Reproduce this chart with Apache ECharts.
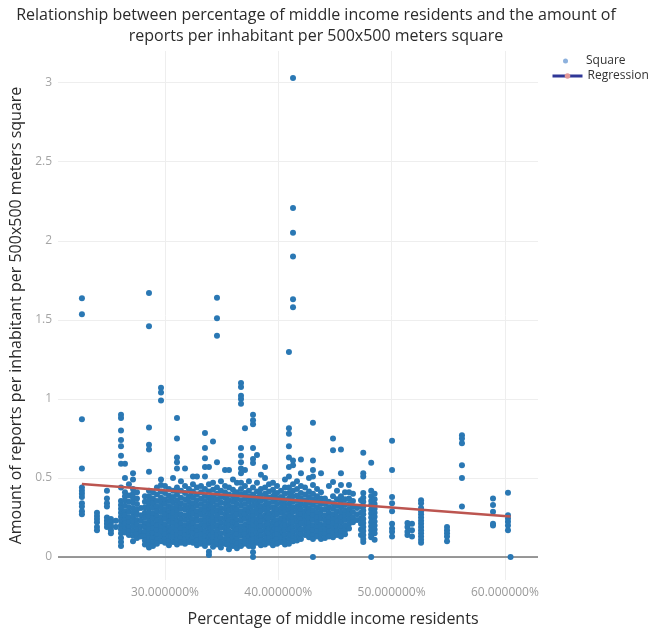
<!DOCTYPE html>
<html>
<head>
<meta charset="utf-8">
<title>Middle income residents vs reports</title>
<script src="https://cdn.jsdelivr.net/npm/echarts@6/dist/echarts.min.js"></script>
<style>
  html, body { margin: 0; padding: 0; background: #ffffff; }
  #chart { width: 650px; height: 632px; }
</style>
</head>
<body>
<div id="chart"></div>
<script>
// Share of middle income residents (%) for each group of squares
const shareColumns = [
  22.67, 24.0, 24.88, 25.23, 25.67, 26.12, 26.47, 26.82, 27.18, 27.53,
  27.88, 28.23, 28.59, 28.94, 29.29, 29.65, 30.0, 30.35, 30.53, 30.71,
  31.06, 31.41, 31.77, 32.12, 32.3, 32.47, 32.82, 33.18, 33.53, 33.88,
  34.05, 34.24, 34.59, 34.94, 35.30, 35.48, 35.65, 36.0, 36.18, 36.35,
  36.71, 37.06, 37.41, 37.6, 37.77, 38.12, 38.3, 38.47, 38.83, 39.0,
  39.18, 39.53, 39.7, 39.89, 40.24, 40.4, 40.59, 40.94, 41.1, 41.30,
  41.65, 41.83, 42.0, 42.36, 42.55, 42.71, 43.06, 43.42, 43.77, 44.12,
  44.47, 44.83, 45.18, 45.53, 45.89, 46.24, 46.59, 46.95, 47.30, 47.50,
  48.2, 48.5, 50.04, 51.4, 51.8, 52.6, 54.89, 56.21, 58.95, 60.27,
  60.5
];

// Reports per inhabitant of every square in the matching group
const reportColumns = [
  [1.636, 1.535, 0.872, 0.56, 0.44, 0.42, 0.40, 0.38, 0.34, 0.32, 0.29, 0.27],
  [0.28, 0.26, 0.24, 0.22, 0.19, 0.17],
  [0.42, 0.37, 0.34, 0.32, 0.25, 0.23, 0.21, 0.19],
  [0.24, 0.22, 0.20, 0.17, 0.15],
  [0.23, 0.19],
  [0.90, 0.88, 0.80, 0.74, 0.70, 0.64, 0.59, 0.44, 0.355, 0.33, 0.305, 0.28, 0.255, 0.23, 0.2, 0.175, 0.15, 0.12, 0.095, 0.07],
  [0.59, 0.50, 0.41, 0.385, 0.36, 0.325, 0.29, 0.265, 0.235, 0.21, 0.18, 0.155],
  [0.46, 0.39, 0.35, 0.315, 0.285, 0.25, 0.22, 0.19, 0.165, 0.14],
  [0.53, 0.49, 0.43, 0.40, 0.375, 0.345, 0.31, 0.28, 0.25, 0.22, 0.195, 0.165, 0.135, 0.10],
  [0.41, 0.37, 0.335, 0.30, 0.27, 0.235, 0.205, 0.175, 0.145, 0.12],
  [0.31, 0.265, 0.23, 0.195, 0.16, 0.13],
  [0.385, 0.35, 0.315, 0.28, 0.25, 0.215, 0.19, 0.16, 0.13, 0.105, 0.08],
  [1.67, 1.46, 0.82, 0.71, 0.68, 0.54, 0.42, 0.385, 0.36, 0.335, 0.305, 0.28, 0.255, 0.225, 0.2, 0.175, 0.145, 0.12, 0.095, 0.075, 0.06],
  [0.41, 0.37, 0.34, 0.31, 0.275, 0.245, 0.21, 0.18, 0.15, 0.12, 0.09, 0.07],
  [0.44, 0.395, 0.355, 0.32, 0.29, 0.26, 0.23, 0.2, 0.17, 0.14, 0.11, 0.085],
  [1.07, 1.04, 0.99, 0.49, 0.455, 0.415, 0.375, 0.345, 0.315, 0.285, 0.25, 0.22, 0.19, 0.16, 0.13, 0.10],
  [0.45, 0.405, 0.365, 0.335, 0.3, 0.27, 0.24, 0.205, 0.175, 0.145, 0.115, 0.09],
  [0.43, 0.39, 0.355, 0.32, 0.285, 0.255, 0.225, 0.19, 0.16, 0.13, 0.10, 0.075],
  [0.36, 0.31, 0.26, 0.22, 0.17, 0.13],
  [0.50, 0.42, 0.38, 0.345, 0.31, 0.28, 0.245, 0.215, 0.185, 0.155, 0.125, 0.095],
  [0.88, 0.75, 0.63, 0.60, 0.56, 0.44, 0.395, 0.36, 0.325, 0.295, 0.265, 0.23, 0.2, 0.17, 0.14, 0.11, 0.08],
  [0.48, 0.42, 0.375, 0.34, 0.305, 0.27, 0.24, 0.21, 0.18, 0.15, 0.12, 0.09],
  [0.56, 0.45, 0.405, 0.365, 0.33, 0.3, 0.265, 0.235, 0.2, 0.17, 0.14, 0.11, 0.085],
  [0.43, 0.385, 0.35, 0.315, 0.28, 0.25, 0.215, 0.185, 0.155, 0.125, 0.095],
  [0.39, 0.33, 0.28, 0.24, 0.2, 0.16, 0.11],
  [0.51, 0.46, 0.415, 0.375, 0.34, 0.305, 0.275, 0.24, 0.21, 0.18, 0.15, 0.12, 0.09],
  [0.51, 0.44, 0.395, 0.36, 0.325, 0.29, 0.26, 0.23, 0.195, 0.165, 0.135, 0.105, 0.075],
  [0.45, 0.41, 0.37, 0.335, 0.3, 0.27, 0.235, 0.205, 0.175, 0.145, 0.115, 0.085],
  [0.785, 0.69, 0.625, 0.57, 0.51, 0.43, 0.39, 0.355, 0.32, 0.29, 0.255, 0.225, 0.195, 0.16, 0.13, 0.1, 0.07],
  [0.57, 0.46, 0.415, 0.375, 0.34, 0.305, 0.275, 0.245, 0.21, 0.18, 0.15, 0.12, 0.09, 0.034, 0.013],
  [0.36, 0.32, 0.27, 0.23, 0.18, 0.14, 0.1],
  [0.73, 0.47, 0.425, 0.385, 0.35, 0.315, 0.285, 0.25, 0.22, 0.19, 0.155, 0.125, 0.095, 0.065],
  [1.64, 1.51, 1.40, 0.60, 0.44, 0.40, 0.365, 0.33, 0.295, 0.265, 0.235, 0.2, 0.17, 0.14, 0.11, 0.08],
  [0.48, 0.42, 0.38, 0.345, 0.31, 0.28, 0.245, 0.215, 0.185, 0.15, 0.12, 0.09, 0.06],
  [0.55, 0.45, 0.41, 0.375, 0.34, 0.305, 0.27, 0.24, 0.21, 0.18, 0.15, 0.115, 0.085],
  [0.39, 0.35, 0.29, 0.25, 0.21, 0.17, 0.12, 0.08],
  [0.55, 0.44, 0.395, 0.36, 0.325, 0.295, 0.26, 0.23, 0.2, 0.165, 0.135, 0.105, 0.075, 0.05],
  [0.49, 0.425, 0.385, 0.35, 0.315, 0.28, 0.25, 0.22, 0.19, 0.155, 0.125, 0.095, 0.07],
  [0.4, 0.36, 0.31, 0.26, 0.22, 0.18, 0.14, 0.1],
  [0.47, 0.41, 0.37, 0.335, 0.3, 0.27, 0.235, 0.205, 0.175, 0.145, 0.115, 0.085, 0.055],
  [1.10, 1.075, 1.02, 1.00, 0.97, 0.69, 0.64, 0.60, 0.56, 0.53, 0.47, 0.43, 0.395, 0.36, 0.325, 0.29, 0.26, 0.23, 0.195, 0.165, 0.135, 0.1, 0.07],
  [0.815, 0.55, 0.45, 0.405, 0.37, 0.335, 0.3, 0.27, 0.24, 0.205, 0.175, 0.145, 0.115, 0.085],
  [0.48, 0.42, 0.385, 0.35, 0.315, 0.285, 0.25, 0.22, 0.19, 0.16, 0.13, 0.1, 0.07],
  [0.37, 0.32, 0.28, 0.24, 0.19, 0.15, 0.11],
  [0.90, 0.865, 0.84, 0.69, 0.62, 0.595, 0.44, 0.395, 0.36, 0.325, 0.29, 0.26, 0.23, 0.2, 0.17, 0.14, 0.11, 0.085, 0.065, 0.03, 0.0],
  [0.645, 0.47, 0.415, 0.375, 0.34, 0.305, 0.275, 0.24, 0.21, 0.18, 0.15, 0.12, 0.09],
  [0.41, 0.36, 0.32, 0.27, 0.23, 0.19, 0.14, 0.1],
  [0.52, 0.43, 0.39, 0.355, 0.32, 0.29, 0.255, 0.225, 0.195, 0.165, 0.135, 0.105, 0.075],
  [0.57, 0.50, 0.44, 0.4, 0.365, 0.33, 0.3, 0.265, 0.235, 0.2, 0.17, 0.14, 0.11, 0.08],
  [0.38, 0.34, 0.29, 0.25, 0.21, 0.16, 0.12],
  [0.46, 0.415, 0.375, 0.34, 0.31, 0.275, 0.245, 0.21, 0.18, 0.15, 0.12, 0.09],
  [0.47, 0.425, 0.385, 0.35, 0.315, 0.28, 0.25, 0.22, 0.19, 0.16, 0.13, 0.1, 0.075],
  [0.4, 0.36, 0.31, 0.27, 0.22, 0.18, 0.14, 0.1],
  [0.45, 0.405, 0.37, 0.335, 0.3, 0.27, 0.235, 0.205, 0.175, 0.145, 0.115, 0.085],
  [0.42, 0.38, 0.345, 0.31, 0.28, 0.245, 0.215, 0.185, 0.155, 0.125, 0.095],
  [0.37, 0.33, 0.28, 0.24, 0.2, 0.16, 0.12],
  [0.49, 0.44, 0.4, 0.36, 0.325, 0.295, 0.26, 0.23, 0.2, 0.17, 0.14, 0.11, 0.08],
  [1.297, 0.815, 0.78, 0.70, 0.63, 0.57, 0.51, 0.44, 0.405, 0.37, 0.335, 0.3, 0.27, 0.24, 0.205, 0.175, 0.145, 0.115, 0.085],
  [0.4, 0.35, 0.31, 0.26, 0.22, 0.18, 0.14],
  [3.03, 2.207, 2.05, 1.90, 1.63, 1.58, 0.61, 0.58, 0.46, 0.42, 0.385, 0.35, 0.315, 0.285, 0.25, 0.22, 0.19, 0.16, 0.13, 0.1],
  [0.48, 0.43, 0.39, 0.355, 0.32, 0.29, 0.255, 0.225, 0.195, 0.165, 0.135, 0.105],
  [0.37, 0.32, 0.28, 0.24, 0.2, 0.16, 0.12],
  [0.617, 0.53, 0.45, 0.405, 0.37, 0.335, 0.3, 0.27, 0.24, 0.21, 0.175, 0.145, 0.115],
  [0.44, 0.395, 0.36, 0.325, 0.29, 0.26, 0.23, 0.2, 0.17, 0.14],
  [0.35, 0.3, 0.26, 0.22, 0.18, 0.15],
  [0.50, 0.415, 0.38, 0.345, 0.31, 0.28, 0.245, 0.215, 0.185, 0.155, 0.125],
  [0.85, 0.61, 0.55, 0.51, 0.455, 0.4, 0.365, 0.33, 0.295, 0.265, 0.235, 0.2, 0.17, 0.14, 0.115, 0.0],
  [0.43, 0.385, 0.35, 0.315, 0.28, 0.25, 0.22, 0.19, 0.16, 0.13],
  [0.53, 0.41, 0.37, 0.335, 0.3, 0.27, 0.24, 0.205, 0.175, 0.145, 0.115],
  [0.37, 0.335, 0.3, 0.265, 0.235, 0.205, 0.175, 0.145, 0.12],
  [0.45, 0.35, 0.315, 0.28, 0.25, 0.22, 0.19, 0.16, 0.13],
  [0.75, 0.675, 0.475, 0.385, 0.34, 0.305, 0.27, 0.24, 0.21, 0.18, 0.15, 0.125],
  [0.42, 0.365, 0.325, 0.29, 0.255, 0.225, 0.195, 0.165, 0.14],
  [0.68, 0.53, 0.455, 0.385, 0.35, 0.315, 0.28, 0.25, 0.22, 0.19, 0.16, 0.13],
  [0.41, 0.365, 0.33, 0.295, 0.265, 0.235, 0.2, 0.17, 0.145],
  [0.455, 0.41, 0.37, 0.335, 0.3, 0.27, 0.24, 0.21, 0.18],
  [0.40, 0.355, 0.32, 0.285, 0.25, 0.22],
  [0.31, 0.27, 0.235],
  [0.36, 0.32, 0.28, 0.245, 0.21, 0.175, 0.14],
  [0.66, 0.53, 0.51, 0.405, 0.375, 0.35, 0.32, 0.295, 0.27, 0.24, 0.215, 0.19, 0.165, 0.14, 0.115, 0.095],
  [0.596, 0.42, 0.385, 0.355, 0.33, 0.3, 0.275, 0.25, 0.22, 0.195, 0.17, 0.145, 0.125, 0.0],
  [0.40, 0.365, 0.335, 0.305, 0.28, 0.255, 0.225, 0.2, 0.175, 0.15, 0.11],
  [0.735, 0.55, 0.38, 0.34, 0.29, 0.21, 0.18, 0.16, 0.13],
  [0.215, 0.19, 0.16, 0.14],
  [0.21, 0.17, 0.13],
  [0.36, 0.34, 0.31, 0.29, 0.27, 0.25, 0.23, 0.21, 0.19, 0.17, 0.15, 0.13, 0.11, 0.09],
  [0.19, 0.17, 0.15, 0.13, 0.10],
  [0.77, 0.75, 0.72, 0.58, 0.50, 0.32],
  [0.37, 0.33, 0.286, 0.21, 0.20],
  [0.406, 0.265, 0.244, 0.223, 0.20, 0.17],
  [0.0]
];

// Fitted regression line end points
const regressionShare = [22.67, 60.5];
const regressionReports = [0.462, 0.256];

// Axis ticks
const shareTicks = [30, 40, 50, 60];
const reportTicks = [0, 0.5, 1, 1.5, 2, 2.5, 3];

const squarePoints = [];
shareColumns.forEach((share, i) => {
  reportColumns[i].forEach(r => squarePoints.push([share, r]));
});
const regressionPoints = regressionShare.map((s, i) => [s, regressionReports[i]]);

const FONT = '"Open Sans", "Noto Sans", sans-serif';
const chart = echarts.init(document.getElementById('chart'), null, { renderer: 'canvas' });

chart.setOption({
  backgroundColor: '#ffffff',
  animation: false,
  title: {
    text: 'Relationship between percentage of middle income residents and the amount of\nreports per inhabitant per 500x500 meters square',
    left: 311,
    textAlign: 'center',
    top: 0,
    padding: [5, 5, 5, 5],
    textStyle: {
      fontFamily: FONT,
      fontSize: 16,
      fontWeight: 'normal',
      color: '#2b2b2b',
      lineHeight: 21
    }
  },
  legend: [
    {
      data: [{ name: 'Square', icon: 'circle', itemStyle: { color: '#8db1dd' } }],
      left: 558,
      top: 50,
      itemWidth: 5,
      itemHeight: 5,
      textStyle: { fontFamily: FONT, fontSize: 12, color: '#333333', padding: [0, 0, 0, 13] }
    },
    {
      data: [{
        name: 'Regression',
        lineStyle: { color: '#2f3797', width: 3 },
        itemStyle: { color: '#e39a9a' }
      }],
      left: 546,
      top: 65,
      itemWidth: 30,
      itemHeight: 7,
      textStyle: { fontFamily: FONT, fontSize: 12, color: '#333333' }
    }
  ],
  grid: { left: 58, right: 112, top: 51, bottom: 52, containLabel: false },
  xAxis: {
    type: 'value',
    min: 20.56,
    max: 62.92,
    name: 'Percentage of middle income residents',
    nameLocation: 'middle',
    nameGap: 31,
    nameTextStyle: { fontFamily: FONT, fontSize: 16, color: '#2b2b2b', padding: [0, 0, 0, 70] },
    axisLine: { show: false, onZero: false },
    axisTick: { show: false, customValues: shareTicks },
    axisLabel: {
      customValues: shareTicks,
      margin: 7,
      fontFamily: FONT,
      fontSize: 12,
      color: '#9a9a9a',
      formatter: v => v.toFixed(6) + '%'
    },
    splitLine: { show: true, lineStyle: { color: '#eeeeee', width: 1 } }
  },
  yAxis: {
    type: 'value',
    min: -0.145,
    max: 3.2,
    name: 'Amount of reports per inhabitant per 500x500 meters square',
    nameLocation: 'middle',
    nameGap: 28,
    nameTextStyle: { fontFamily: FONT, fontSize: 16, color: '#2b2b2b' },
    axisLine: { show: false },
    axisTick: { show: false, customValues: reportTicks },
    axisLabel: {
      customValues: reportTicks,
      margin: 6,
      fontFamily: FONT,
      fontSize: 12,
      color: '#a5a5a5'
    },
    splitLine: { show: true, lineStyle: { color: '#eeeeee', width: 1 } }
  },
  series: [
    {
      name: 'Square',
      type: 'scatter',
      data: squarePoints,
      symbol: 'circle',
      symbolSize: 6,
      itemStyle: { color: '#2a78b4', opacity: 1 },
      markLine: {
        silent: true,
        symbol: 'none',
        label: { show: false },
        lineStyle: { color: '#777777', width: 1.5, type: 'solid' },
        data: [{ yAxis: 0 }],
        z: 1
      },
      z: 2
    },
    {
      name: 'Regression',
      type: 'line',
      data: regressionPoints,
      symbol: 'circle',
      symbolSize: 5,
      showSymbol: false,
      lineStyle: { color: '#bc5550', width: 2.5 },
      itemStyle: { color: '#bc5550' },
      z: 3
    }
  ]
});
</script>
</body>
</html>
